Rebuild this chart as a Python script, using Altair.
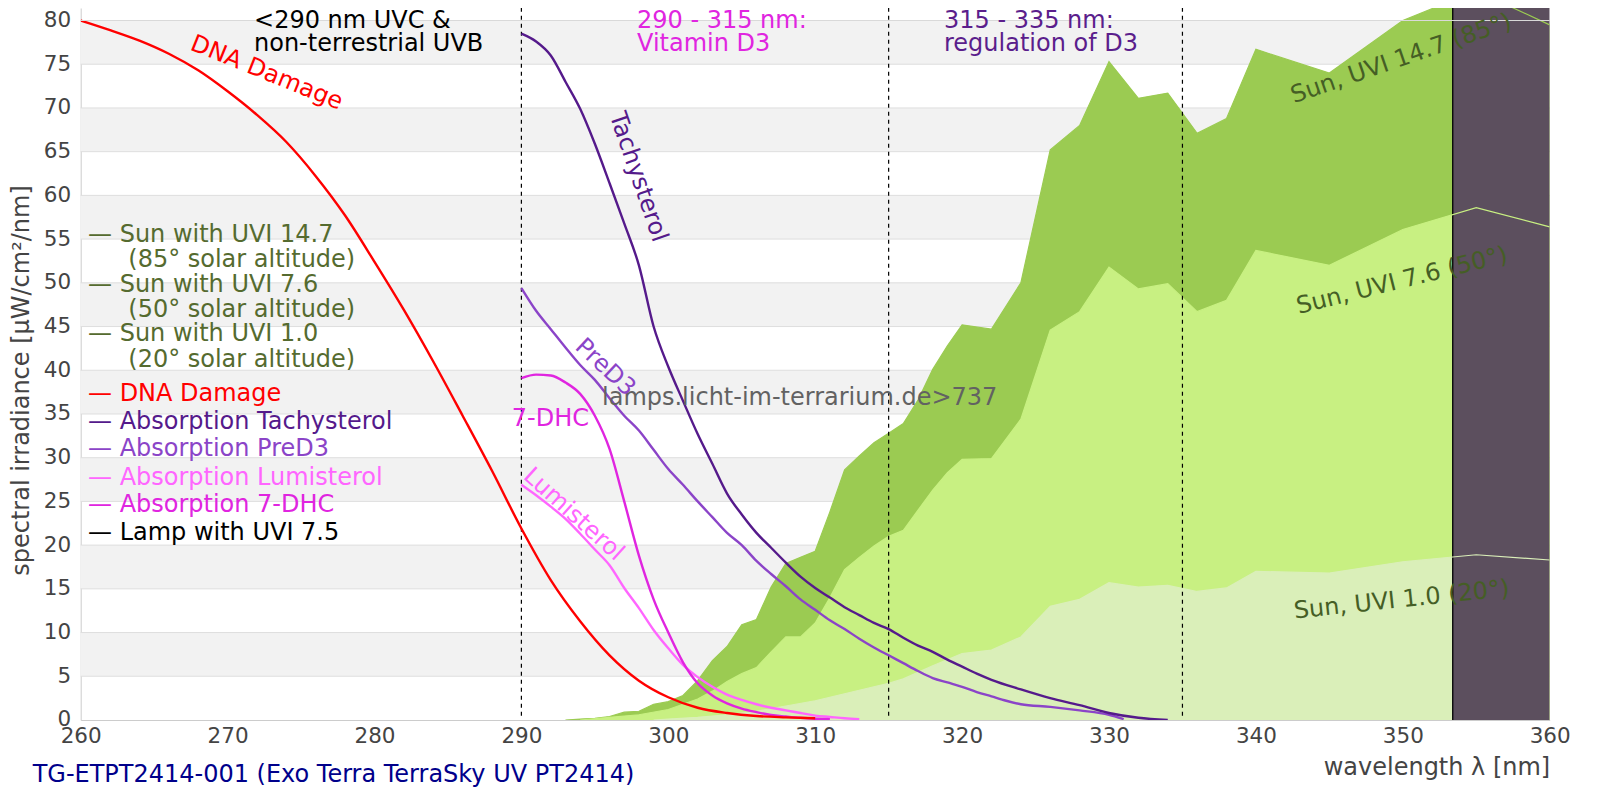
import altair as alt
import pandas as pd

FONT = "DejaVu Sans"
W, H = 1469, 712
YMAX = 81.43
TFS = 24

# ---------------- data ----------------
band_lo = [5, 15, 25, 35, 45, 55, 65, 75]
band_hi = [10, 20, 30, 40, 50, 60, 70, 80]
grid_vals = [5, 10, 15, 20, 25, 30, 35, 40, 45, 50, 55, 60, 65, 70, 75]

uvi147_nm = [293, 294, 295, 296, 297, 298, 299, 300, 301, 302, 303, 304, 305, 306, 307, 308, 309, 310,
             311, 312, 313, 314, 315, 316, 317, 318, 319, 320, 322, 324, 326, 328, 330, 332, 334, 336,
             338, 340, 345, 350, 355, 360]
uvi147 = [0.0, 0.1, 0.2, 0.4, 0.9, 1.0, 1.8, 2.1, 2.8, 4.5, 6.8, 8.4, 10.9, 11.5, 15.2, 17.9, 18.6, 19.3,
          23.8, 28.6, 30.2, 31.7, 32.8, 33.9, 36.6, 40.1, 42.8, 45.2, 44.7, 50.0, 65.2, 68.0, 75.3, 71.1,
          71.7, 67.1, 68.8, 76.7, 74.0, 80.0, 83.4, 79.5]

uvi76_nm = [294, 296, 298, 300, 301, 302, 303, 304, 305, 306, 307, 308, 309, 310, 311, 312, 313, 314,
            315, 316, 317, 318, 319, 320, 322, 324, 326, 328, 330, 332, 334, 336, 338, 340, 345, 350,
            355, 360]
uvi76 = [0.0, 0.3, 0.6, 1.2, 1.8, 2.4, 3.3, 4.4, 5.3, 6.0, 7.8, 9.5, 9.5, 11.1, 14.0, 17.2, 18.6, 19.9,
         21.0, 21.7, 24.0, 26.3, 28.3, 29.8, 29.9, 34.4, 44.6, 46.7, 51.8, 49.3, 49.9, 46.7, 48.0, 53.7,
         52.0, 56.1, 58.6, 56.4]

uvi10_nm = [299, 300, 302, 304, 306, 308, 310, 312, 314, 315, 316, 318, 320, 322, 324, 326, 328, 330,
            332, 334, 336, 338, 340, 345, 350, 355, 360]
uvi10 = [0.0, 0.1, 0.3, 0.6, 1.0, 1.6, 2.2, 3.0, 3.8, 4.2, 4.7, 6.2, 7.6, 8.0, 9.5, 13.0, 13.8, 15.7,
         15.2, 15.4, 14.7, 15.1, 17.0, 16.8, 18.1, 18.9, 18.3]

lamp_nm = [353.4, 353.4, 360]
lamp_val = [0, 500, 500]

dna_nm = [260, 262, 264, 266, 268, 270, 272, 274, 276, 278, 280, 282, 284, 286, 288, 290, 292, 294,
          296, 298, 300, 302, 304, 306, 308, 310]
dna = [80.0, 78.9, 77.7, 76.2, 74.3, 71.9, 69.2, 66.1, 62.2, 57.7, 52.4, 46.9, 41.0, 34.8, 28.5, 21.9,
       16.0, 11.3, 7.4, 4.5, 2.6, 1.4, 0.8, 0.45, 0.3, 0.2]

tachy_nm = [290, 291, 292, 293, 294, 295, 296, 297, 298, 299, 300, 301, 302, 303, 304, 305, 306, 307,
            308, 309, 310, 311, 312, 313, 314, 315, 316, 317, 318, 319, 320, 321, 322, 324, 326, 328,
            330, 332, 334]
tachy = [78.5, 77.6, 76.0, 73.0, 69.9, 65.9, 61.4, 56.8, 52.0, 45.0, 40.4, 36.5, 32.7, 29.3, 25.9, 23.5,
         21.4, 19.7, 18.0, 16.4, 15.1, 14.0, 12.9, 12.0, 11.1, 10.4, 9.4, 8.5, 7.8, 6.9, 6.1, 5.3, 4.6,
         3.5, 2.5, 1.7, 0.8, 0.25, 0.0]

pred3_nm = [290, 291, 292, 293, 294, 295, 296, 297, 298, 299, 300, 301, 302, 303, 304, 305, 306, 307,
            308, 309, 310, 311, 312, 313, 314, 315, 316, 317, 318, 319, 320, 321, 322, 323, 324, 326,
            328, 330, 331]
pred3 = [49.4, 46.8, 44.7, 42.6, 40.6, 38.9, 36.8, 34.8, 33.1, 30.9, 28.7, 26.9, 25.0, 23.2, 21.4, 20.0,
         18.2, 16.7, 15.3, 13.8, 12.6, 11.4, 10.4, 9.3, 8.3, 7.4, 6.5, 5.6, 4.8, 4.3, 3.8, 3.2, 2.7, 2.2,
         1.8, 1.5, 1.1, 0.6, 0.1]

dhc_nm = [290, 291, 292, 293, 294, 295, 296, 297, 298, 299, 300, 301, 302, 303, 304, 305, 306, 307,
          308, 309, 310, 311]
dhc = [39.1, 39.5, 39.4, 38.6, 37.3, 34.8, 31.0, 25.0, 18.8, 13.8, 10.0, 6.6, 4.2, 2.8, 1.9, 1.3, 0.9,
       0.57, 0.4, 0.25, 0.15, 0.1]

lumi_nm = [290, 291, 292, 293, 294, 295, 296, 297, 298, 299, 300, 301, 302, 303, 304, 305, 306, 307,
           308, 309, 310, 311, 312, 313]
lumi = [26.9, 25.7, 24.4, 23.0, 21.3, 19.5, 17.7, 15.1, 12.8, 10.3, 8.2, 6.3, 4.9, 3.8, 2.9, 2.3, 1.8,
        1.4, 1.1, 0.8, 0.5, 0.35, 0.2, 0.1]

region_nm = [290, 315, 335]

# annotation texts
left_texts = ["— Sun with UVI 14.7", "(85° solar altitude)", "— Sun with UVI 7.6", "(50° solar altitude)",
              "— Sun with UVI 1.0", "(20° solar altitude)", "— DNA Damage", "— Absorption Tachysterol",
              "— Absorption PreD3", "— Absorption Lumisterol", "— Absorption 7-DHC", "— Lamp with UVI 7.5",
              "<290 nm UVC &", "non-terrestrial UVB", "290 - 315 nm:", "Vitamin D3", "315 - 335 nm:",
              "regulation of D3", "lamps.licht-im-terrarium.de>737",
              "TG-ETPT2414-001 (Exo Terra TerraSky UV PT2414)"]
left_nm = [260.5, 263.24, 260.5, 263.24, 260.5, 263.24, 260.5, 260.5, 260.5, 260.5, 260.5, 260.5,
           271.8, 271.8, 297.87, 297.87, 318.77, 318.77, 295.49, 256.73]
left_val = [55.5, 52.6, 49.8, 46.9, 44.1, 41.2, 37.3, 34.1, 31.0, 27.7, 24.6, 21.4,
            80.0, 77.3, 80.0, 77.3, 80.0, 77.3, 36.88, -6.29]
left_color = ["#556B2F"] * 6 + ["#FF0000", "#551A8B", "#8B44C8", "#FF66FF", "#E025E0", "#000000",
              "#000000", "#000000", "#E025E0", "#E025E0", "#5B1E8C", "#5B1E8C", "#626262", "#00008B"]

center_texts = ["DNA Damage", "Tachysterol", "PreD3", "7-DHC", "Lumisterol",
                "Sun, UVI 14.7 (85°)", "Sun, UVI 7.6 (50°)", "Sun, UVI 1.0 (20°)"]
center_nm = [272.66, 297.94, 295.7, 291.97, 293.55, 349.9, 349.95, 349.92]
center_val = [74.0, 62.1, 40.3, 34.42, 23.5, 75.6, 50.2, 13.7]
center_angle = [22, 71, 43, 0, 42, 341, 346, 354]
center_color = ["#FF0000", "#551A8B", "#8B44C8", "#E025E0", "#FF66FF", "#455E25", "#455E25", "#455E25"]

# ---------------- scales / axes ----------------
xs = alt.Scale(domain=[260, 360], nice=False, zero=False)
ys = alt.Scale(domain=[0, YMAX], nice=False, zero=False)

x_axis = alt.Axis(values=list(range(260, 361, 10)), grid=False, ticks=False, tickSize=0, labelPadding=6,
                  labelFontSize=21.5, labelColor="#444444", labelFont=FONT, labelFlush=False,
                  labelOverlap=False, domainColor="#cccccc", domainWidth=1, format="d",
                  title="wavelength λ [nm]", titleFont=FONT, titleFontSize=TFS, titleFontWeight="normal",
                  titleColor="#444444", titleAnchor="end", titleAlign="right", titleX=W, titleY=48,
                  titleBaseline="middle")
y_axis = alt.Axis(values=list(range(0, 81, 5)), grid=False, ticks=False, tickSize=0, labelPadding=10,
                  labelFontSize=21.5, labelColor="#444444", labelFont=FONT, labelFlush=False,
                  labelOverlap=False, domainColor="#cccccc", domainWidth=1, format="d",
                  title="spectral irradiance [µW/cm²/nm]", titleFont=FONT, titleFontSize=TFS,
                  titleFontWeight="normal", titleColor="#444444", titleAngle=270, titleX=-59,
                  titleY=372, titleAlign="center", titleBaseline="middle")


def X():
    return alt.X("nm:Q", scale=xs, axis=x_axis)


def Y():
    return alt.Y("val:Q", scale=ys, axis=y_axis)


def series(nm, val):
    return pd.DataFrame({"nm": nm, "val": val})


layers = []

bands = pd.DataFrame({"nm": [260] * len(band_lo), "nm2": [360] * len(band_lo), "val": band_lo, "val2": band_hi})
layers.append(alt.Chart(bands).mark_rect(color="#f2f2f2").encode(x=X(), x2="nm2:Q", y=Y(), y2="val2:Q"))

layers.append(alt.Chart(pd.DataFrame({"val": grid_vals})).mark_rule(color="#dedede", strokeWidth=1)
              .encode(y=Y()))

sun = [(uvi147_nm, uvi147, "#9BCB52"), (uvi76_nm, uvi76, "#C8F082"), (uvi10_nm, uvi10, "#DAEFB9")]
for nm, v, c in sun:
    layers.append(alt.Chart(series(nm, v)).mark_area(color=c, clip=True, opacity=1).encode(x=X(), y=Y()))

lamp = series(lamp_nm, lamp_val)
layers.append(alt.Chart(lamp).mark_area(color="#5C4F5E", clip=True, opacity=1).encode(x=X(), y=Y()))
layers.append(alt.Chart(lamp).mark_line(color="#000000", strokeWidth=1.3, clip=True).encode(x=X(), y=Y()))

for nm, v, c in sun:
    layers.append(alt.Chart(series(nm, v)).mark_line(color=c, strokeWidth=1.2, clip=True).encode(x=X(), y=Y()))

dash = pd.DataFrame({"nm": region_nm, "val": [0.5] * len(region_nm)})
layers.append(alt.Chart(dash).mark_rule(color="#000000", strokeWidth=1.2, strokeDash=[4, 4])
              .encode(x=X(), y=Y(), y2=alt.value(0)))

curves = [(lumi_nm, lumi, "#FF66FF"), (dhc_nm, dhc, "#E025E0"), (pred3_nm, pred3, "#8B44C8"),
          (tachy_nm, tachy, "#551A8B"), (dna_nm, dna, "#FF0000")]
for nm, v, c in curves:
    layers.append(alt.Chart(series(nm, v)).mark_line(color=c, strokeWidth=2.4, clip=True,
                                                     interpolate="monotone").encode(x=X(), y=Y()))

layers.append(alt.Chart(pd.DataFrame({"val": [80]})).mark_rule(color="#d9d9d9", strokeWidth=1)
              .encode(y=Y()))

ldf = pd.DataFrame({"text": left_texts, "nm": left_nm, "val": left_val, "color": left_color})
layers.append(alt.Chart(ldf).mark_text(font=FONT, fontSize=TFS, align="left", baseline="middle")
              .encode(x=X(), y=Y(), text="text:N", color=alt.Color("color:N", scale=None)))

cdf = pd.DataFrame({"text": center_texts, "nm": center_nm, "val": center_val, "color": center_color,
                    "angle": center_angle})
layers.append(alt.Chart(cdf).mark_text(font=FONT, fontSize=TFS, align="center", baseline="middle")
              .encode(x=X(), y=Y(), text="text:N", color=alt.Color("color:N", scale=None),
                      angle=alt.Angle("angle:Q", scale=None)))

chart = alt.layer(*layers).properties(
    width=W, height=H,
    autosize=alt.AutoSizeParams(type="none"),
    padding={"left": 72.7, "top": 0, "right": 40, "bottom": 80},
    background="white",
).configure_view(stroke=None)

chart.save("out.html", embed_options={"renderer": "svg", "actions": False})
